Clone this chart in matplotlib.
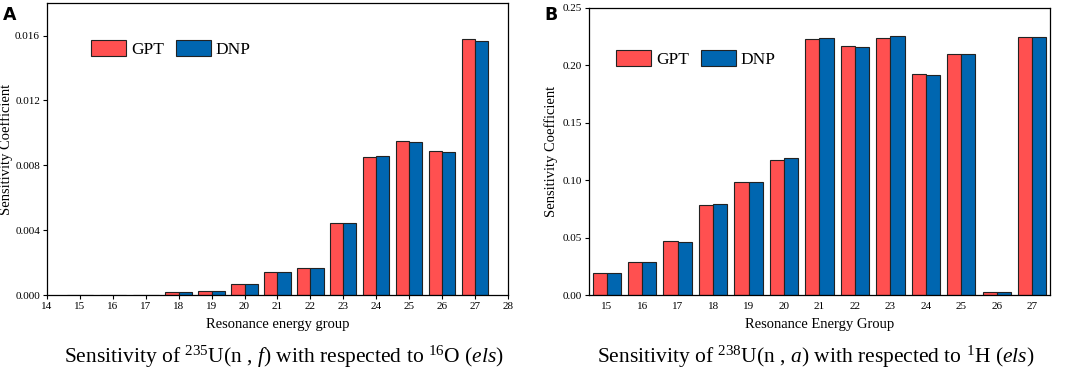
import matplotlib
matplotlib.use("Agg")
import matplotlib.pyplot as plt
import numpy as np
from matplotlib.ticker import FormatStrFormatter

plt.rcParams['font.family'] = ['Liberation Serif', 'DejaVu Serif']
plt.rcParams['mathtext.fontset'] = 'custom'
plt.rcParams['mathtext.rm'] = 'Liberation Serif'
plt.rcParams['mathtext.it'] = 'Liberation Serif:italic'

red = '#FF5050'
blue = '#0066B0'

# panel A: 235U(n,f) vs 16O (els)
groups_a = [15, 16, 17, 18, 19, 20, 21, 22, 23, 24, 25, 26, 27]
gpt_a = [0.0, 0.0, 0.0, 0.00018, 0.00027, 0.00068, 0.00143, 0.00164, 0.00447, 0.00848, 0.00951, 0.00889, 0.01580]
dnp_a = [0.0, 0.0, 0.0, 0.00018, 0.00027, 0.00068, 0.00143, 0.00166, 0.00447, 0.00858, 0.00942, 0.00881, 0.01569]

# panel B: 238U(n,a) vs 1H (els)
groups_b = [15, 16, 17, 18, 19, 20, 21, 22, 23, 24, 25, 26, 27]
gpt_b = [0.0189, 0.0290, 0.0470, 0.0786, 0.0986, 0.1180, 0.2230, 0.2169, 0.2239, 0.1929, 0.2103, 0.0026, 0.2251]
dnp_b = [0.0189, 0.0290, 0.0464, 0.0792, 0.0986, 0.1192, 0.2239, 0.2158, 0.2253, 0.1914, 0.2096, 0.0026, 0.2245]

fig = plt.figure(figsize=(10.72, 3.70), dpi=100)
axA = fig.add_axes([0.0438, 0.2027, 0.430, 0.789])
axB = fig.add_axes([0.5494, 0.2027, 0.430, 0.7757])

w = 0.4
for ax, g, s1, s2 in [(axA, groups_a, gpt_a, dnp_a), (axB, groups_b, gpt_b, dnp_b)]:
    x = np.array(g)
    ax.bar(x - w, s1, width=w, align='edge', color=red, edgecolor='#222222', linewidth=0.8, label='GPT')
    ax.bar(x, s2, width=w, align='edge', color=blue, edgecolor='#222222', linewidth=0.8, label='DNP')
    ax.tick_params(direction='out', length=3, width=0.8, labelsize=8, pad=2)
    for sp in ax.spines.values():
        sp.set_linewidth(0.9)
    ax.set_ylabel('Sensitivity Coefficient', fontsize=10.5)

axA.set_xlim(14, 28)
axA.set_xticks(np.arange(14, 29))
axA.set_ylim(0, 0.018)
axA.set_yticks(np.arange(0, 0.0161, 0.004))
axA.yaxis.set_major_formatter(FormatStrFormatter('%.3f'))
axA.set_xlabel('Resonance energy group', fontsize=10.5, labelpad=5)
axA.yaxis.set_label_coords(-0.074, 0.5)

axB.set_xlim(14.5, 27.5)
axB.set_xticks(groups_b)
axB.tick_params(axis='x', length=0, pad=5)
axB.set_ylim(0, 0.25)
axB.set_yticks(np.arange(0, 0.251, 0.05))
axB.yaxis.set_major_formatter(FormatStrFormatter('%.2f'))
axB.set_xlabel('Resonance Energy Group', fontsize=10.5, labelpad=5)
axB.yaxis.set_label_coords(-0.068, 0.5)

for ax, pos in [(axA, (0.0955, 0.842)), (axB, (0.0586, 0.822))]:
    ax.legend(loc='center left', bbox_to_anchor=pos, ncol=2, frameon=False, fontsize=12.5,
              handlelength=2.0, handleheight=1.0, handletextpad=0.3, columnspacing=0.7,
              borderpad=0, borderaxespad=0)

fig.text(0.003, 0.985, 'A', fontsize=12.5, fontweight='bold', family='DejaVu Sans', va='top', ha='left')
fig.text(0.508, 0.985, 'B', fontsize=12.5, fontweight='bold', family='DejaVu Sans', va='top', ha='left')

fig.text(0.265, 0.035, r'Sensitivity of $^{235}$U(n , $\it{f}$) with respected to $^{16}$O ($\it{els}$)',
         fontsize=15.5, ha='center', va='center')
fig.text(0.761, 0.035, r'Sensitivity of $^{238}$U(n , $\it{a}$) with respected to $^{1}$H ($\it{els}$)',
         fontsize=15.5, ha='center', va='center')

fig.savefig('out.png', dpi=100)
